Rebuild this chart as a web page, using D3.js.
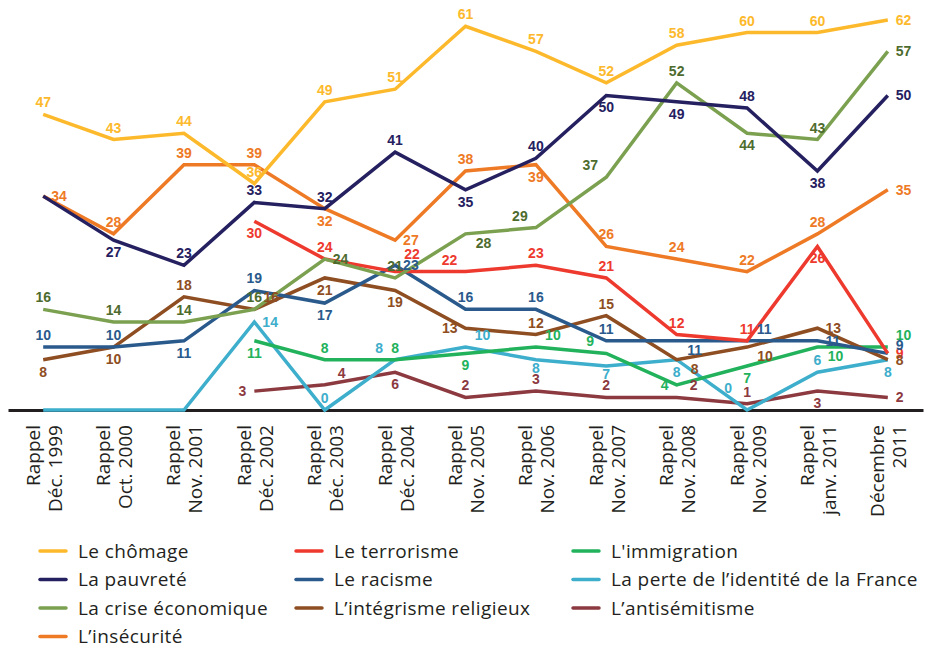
<!DOCTYPE html>
<html>
<head>
<meta charset="utf-8">
<script src="https://cdn.jsdelivr.net/npm/d3@7"></script>
<style>
  body { margin: 0; background: #fff; }
  .val { font-family: "Liberation Sans", Arial, sans-serif; font-weight: bold; font-size: 14px; }
  .cat { font-family: "Open Sans", sans-serif; font-size: 19px; fill: #231f20; }
  .leg { font-family: "Open Sans", sans-serif; font-size: 19px; letter-spacing: 0.4px; fill: #231f20; }
</style>
</head>
<body>
<div id="chart"></div>
<script>
// x categories (two lines each)
var catLine1 = ["Rappel","Rappel","Rappel","Rappel","Rappel","Rappel","Rappel","Rappel","Rappel","Rappel","Rappel","Rappel","Décembre"];
var catLine2 = ["Déc. 1999","Oct. 2000","Nov. 2001","Déc. 2002","Déc. 2003","Déc. 2004","Nov. 2005","Nov. 2006","Nov. 2007","Nov. 2008","Nov. 2009","janv. 2011","2011"];

// values (%), null = not asked
var chomage       = [47,43,44,36,49,51,61,57,52,58,60,60,62];
var pauvrete      = [34,27,23,33,32,41,35,40,50,49,48,38,50];
var crise         = [16,14,14,16,24,21,28,29,37,52,44,43,57];
var insecurite    = [34,28,39,39,32,27,38,39,26,24,22,28,35];
var terrorisme    = [null,null,null,30,24,22,22,23,21,12,11,26,9];
var racisme       = [10,10,11,19,17,23,16,16,11,11,11,11,9];
var integrisme    = [8,10,18,16,21,19,13,12,15,8,10,13,8];
var immigration   = [null,null,null,11,8,8,9,10,9,4,7,10,10];
var identite      = [0,0,0,14,0,8,10,8,7,8,0,6,8];
var antisemitisme = [null,null,null,3,4,6,2,3,2,2,1,3,2];

// where each value label sits relative to its point
var chomagePos       = ["a","a","a","a","a","a","a","a","a","a","a","a","r"];
var pauvretePos      = [null,"b","a","a","a","a","b","a","b","b","a","b","r"];
var crisePos         = ["a","a","a","a","r","a","br","al","al","a","b","a","r"];
var insecuritePos    = ["r","a","a","a","b","r","a","b","a","a","a","a","r"];
var terrorismePos    = [null,null,null,"b","a","ur","al","a","a","a","a","b","r"];
var racismePos       = ["a","a","b","a","b","r","a","a","a","br","ar","r","ru"];
var integrismePos    = ["b","b","a","ar","b","b","l","a","a","br","br","r","r"];
var immigrationPos   = [null,null,null,"b","a","a","b","ar","al","l","b","br","ruu"];
var identitePos      = [null,null,null,"r","a","al","ar","bs","bs","b","ul","a","b"];
var antisemitismePos = [null,null,null,"l","ar","b","a","a","a","ar","a","b","r"];

var series = [
  {name: "Le chômage", values: chomage, pos: chomagePos, color: "#fdb92c", text: "#fdb92c"},
  {name: "La pauvreté", values: pauvrete, pos: pauvretePos, color: "#252060", text: "#252060"},
  {name: "La crise économique", values: crise, pos: crisePos, color: "#7ba150", text: "#4e6b2e"},
  {name: "L’insécurité", values: insecurite, pos: insecuritePos, color: "#ee7a26", text: "#ee7a26"},
  {name: "Le terrorisme", values: terrorisme, pos: terrorismePos, color: "#ee3a2e", text: "#ee3a2e"},
  {name: "Le racisme", values: racisme, pos: racismePos, color: "#2a5a8c", text: "#2a5a8c"},
  {name: "L’intégrisme religieux", values: integrisme, pos: integrismePos, color: "#8e4e22", text: "#8e4e22"},
  {name: "L'immigration", values: immigration, pos: immigrationPos, color: "#22b25c", text: "#22b25c"},
  {name: "La perte de l’identité de la France", values: identite, pos: identitePos, color: "#3daecb", text: "#3daecb"},
  {name: "L’antisémitisme", values: antisemitisme, pos: antisemitismePos, color: "#8c3a3f", text: "#8c3a3f"}
];

var place = {
  a:   {dx: 0,   dy: -7,  anchor: "middle"},
  b:   {dx: 0,   dy: 17,  anchor: "middle"},
  bs:  {dx: 0,   dy: 13,  anchor: "middle"},
  r:   {dx: 8,   dy: 5,   anchor: "start"},
  ru:  {dx: 8,   dy: -3,  anchor: "start"},
  ruu: {dx: 8,   dy: -7,  anchor: "start"},
  l:   {dx: -8,  dy: 5,   anchor: "end"},
  ar:  {dx: 17,  dy: -7,  anchor: "middle"},
  ur:  {dx: 17,  dy: -13, anchor: "middle"},
  al:  {dx: -16, dy: -7,  anchor: "middle"},
  ul:  {dx: -19, dy: -17, anchor: "middle"},
  br:  {dx: 18,  dy: 14,  anchor: "middle"}
};

var W = 927, H = 648;

var svg = d3.select("#chart").append("svg")
    .attr("width", W)
    .attr("height", H);

var x = d3.scalePoint()
    .domain(d3.range(catLine1.length))
    .range([8, 923])
    .padding(0.5);

var y = d3.scaleLinear()
    .domain([0, 62])
    .range([410, 20]);

// axis
var xAxis = d3.axisBottom(x).tickSize(0).tickFormat("");
var axisG = svg.append("g")
    .attr("transform", "translate(0," + y(0) + ")")
    .call(xAxis);
axisG.select(".domain").attr("stroke", "#231f20").attr("stroke-width", 3);

axisG.selectAll(".tick").each(function(d){
  var t = d3.select(this).append("text")
      .attr("class", "cat")
      .attr("transform", "rotate(-90)")
      .attr("text-anchor", "end");
  t.append("tspan").attr("x", -15).attr("y", -4).text(catLine1[d]);
  t.append("tspan").attr("x", -15).attr("y", 18).text(catLine2[d]);
});

// lines (draw bottom-most first)
var line = d3.line()
    .defined(function(d){ return d != null; })
    .x(function(d, i){ return x(i); })
    .y(function(d){ return y(d); });

var order = series.slice().reverse();

svg.append("g").selectAll("path")
    .data(order)
  .enter().append("path")
    .attr("d", function(s){ return line(s.values); })
    .attr("fill", "none")
    .attr("stroke", function(s){ return s.color; })
    .attr("stroke-width", 3.5);

// value labels
var labels = [];
series.forEach(function(s){
  s.values.forEach(function(v, i){
    if (v == null || s.pos[i] == null) return;
    labels.push({v: v, i: i, p: place[s.pos[i]], color: s.text});
  });
});

svg.append("g").selectAll("text")
    .data(labels)
  .enter().append("text")
    .attr("class", "val")
    .attr("x", function(d){ return x(d.i) + d.p.dx; })
    .attr("y", function(d){ return y(d.v) + d.p.dy; })
    .attr("text-anchor", function(d){ return d.p.anchor; })
    .attr("fill", function(d){ return d.color; })
    .text(function(d){ return d.v; });

// legend: 3 columns, column-major
var legCols = [40, 296, 573];
var legend = svg.append("g").selectAll("g")
    .data(series)
  .enter().append("g")
    .attr("transform", function(d, i){
      var c = i < 4 ? 0 : (i < 7 ? 1 : 2);
      var r = i < 4 ? i : (i < 7 ? i - 4 : i - 7);
      return "translate(" + legCols[c] + "," + (551 + r * 28.5) + ")";
    });

legend.append("line")
    .attr("x1", 0).attr("x2", 26)
    .attr("stroke", function(d){ return d.color; })
    .attr("stroke-width", 3.5)
    .attr("stroke-linecap", "round");

legend.append("text")
    .attr("class", "leg")
    .attr("x", 38)
    .attr("dy", "0.35em")
    .text(function(d){ return d.name; });
</script>
</body>
</html>
